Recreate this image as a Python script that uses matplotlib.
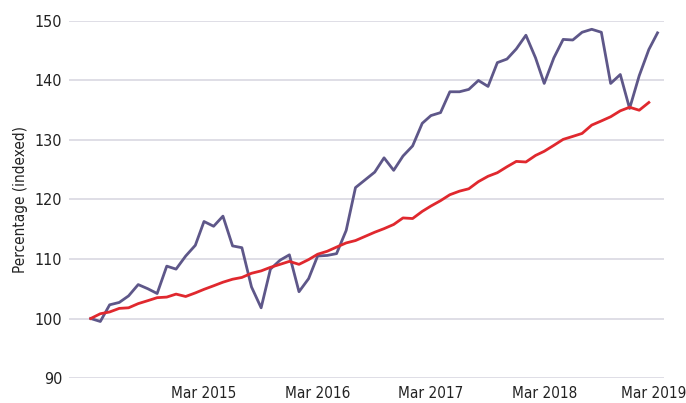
import matplotlib
matplotlib.use('Agg')
import matplotlib.pyplot as plt
import matplotlib.transforms as mtransforms
import pandas as pd

# monthly index values, Mar 2014 onwards
months = pd.date_range('2014-03-01', periods=61, freq='MS')

purple_vals = [100.0, 99.5, 102.3, 102.7, 103.8, 105.7, 105.0, 104.2, 108.8, 108.3,
               110.5, 112.3, 116.3, 115.5, 117.2, 112.2, 111.9, 105.3, 101.8, 108.3,
               109.8, 110.7, 104.5, 106.7, 110.5, 110.6, 110.9, 114.8, 122.0, 123.3,
               124.6, 127.0, 124.9, 127.3, 129.0, 132.8, 134.1, 134.6, 138.1, 138.1,
               138.5, 140.0, 139.0, 143.0, 143.6, 145.3, 147.6, 143.8, 139.5, 143.8,
               146.9, 146.8, 148.1, 148.6, 148.1, 139.5, 141.0, 135.3, 140.8, 145.2,
               148.0]

red_vals = [100.0, 100.8, 101.1, 101.7, 101.8, 102.5, 103.0, 103.5, 103.6, 104.1,
            103.7, 104.3, 104.9, 105.5, 106.1, 106.6, 106.9, 107.6, 108.0, 108.6,
            109.1, 109.6, 109.1, 109.9, 110.8, 111.3, 112.0, 112.7, 113.1, 113.8,
            114.5, 115.1, 115.8, 116.9, 116.8, 118.0, 118.9, 119.8, 120.8, 121.4,
            121.8, 123.0, 123.9, 124.5, 125.5, 126.4, 126.3, 127.4, 128.1, 129.1,
            130.1, 130.6, 131.1, 132.5, 133.2, 133.9, 134.9, 135.5, 135.0, 136.3]

tick_dates = ['2015-03-01', '2016-03-01', '2017-03-01', '2018-03-01', '2019-03-01']
tick_labels = ['Mar 2015', 'Mar 2016', 'Mar 2017', 'Mar 2018', 'Mar 2019']
y_ticks = [90, 100, 110, 120, 130, 140, 150]

plt.rcParams['font.family'] = ['DejaVu Sans']
plt.rcParams['font.stretch'] = 'condensed'

fig = plt.figure(figsize=(6.86, 4.03), dpi=100)
ax = fig.add_axes([0.101, 0.062, 0.867, 0.886])

ax.plot(months, purple_vals, color='#5e5789', lw=2.0, zorder=3)
ax.plot(months[:len(red_vals)], red_vals, color='#e0282e', lw=2.0, zorder=4)

ax.set_ylim(90, 150)
ax.set_yticks(y_ticks)
ax.set_xlim(pd.Timestamp('2013-12-22'), pd.Timestamp('2019-03-22'))
ax.set_xticks(pd.to_datetime(tick_dates))
ax.set_xticklabels(tick_labels)

ax.grid(axis='y', color='#d9d8e2', lw=1.2, zorder=0)
for s in ax.spines.values():
    s.set_visible(False)
ax.tick_params(length=0, labelsize=11.5, colors='#222222')
ax.tick_params(axis='x', labelsize=11, pad=6)
ax.tick_params(axis='y', pad=5)
ax.set_ylabel('Percentage (indexed)', fontsize=11, color='#222222', labelpad=5)

# keep the last date label inside the figure edge
last = ax.get_xticklabels()[-1]
last.set_transform(last.get_transform() +
                   mtransforms.ScaledTranslation(-4 / 100, 0, fig.dpi_scale_trans))

fig.savefig('out.png', dpi=100)
